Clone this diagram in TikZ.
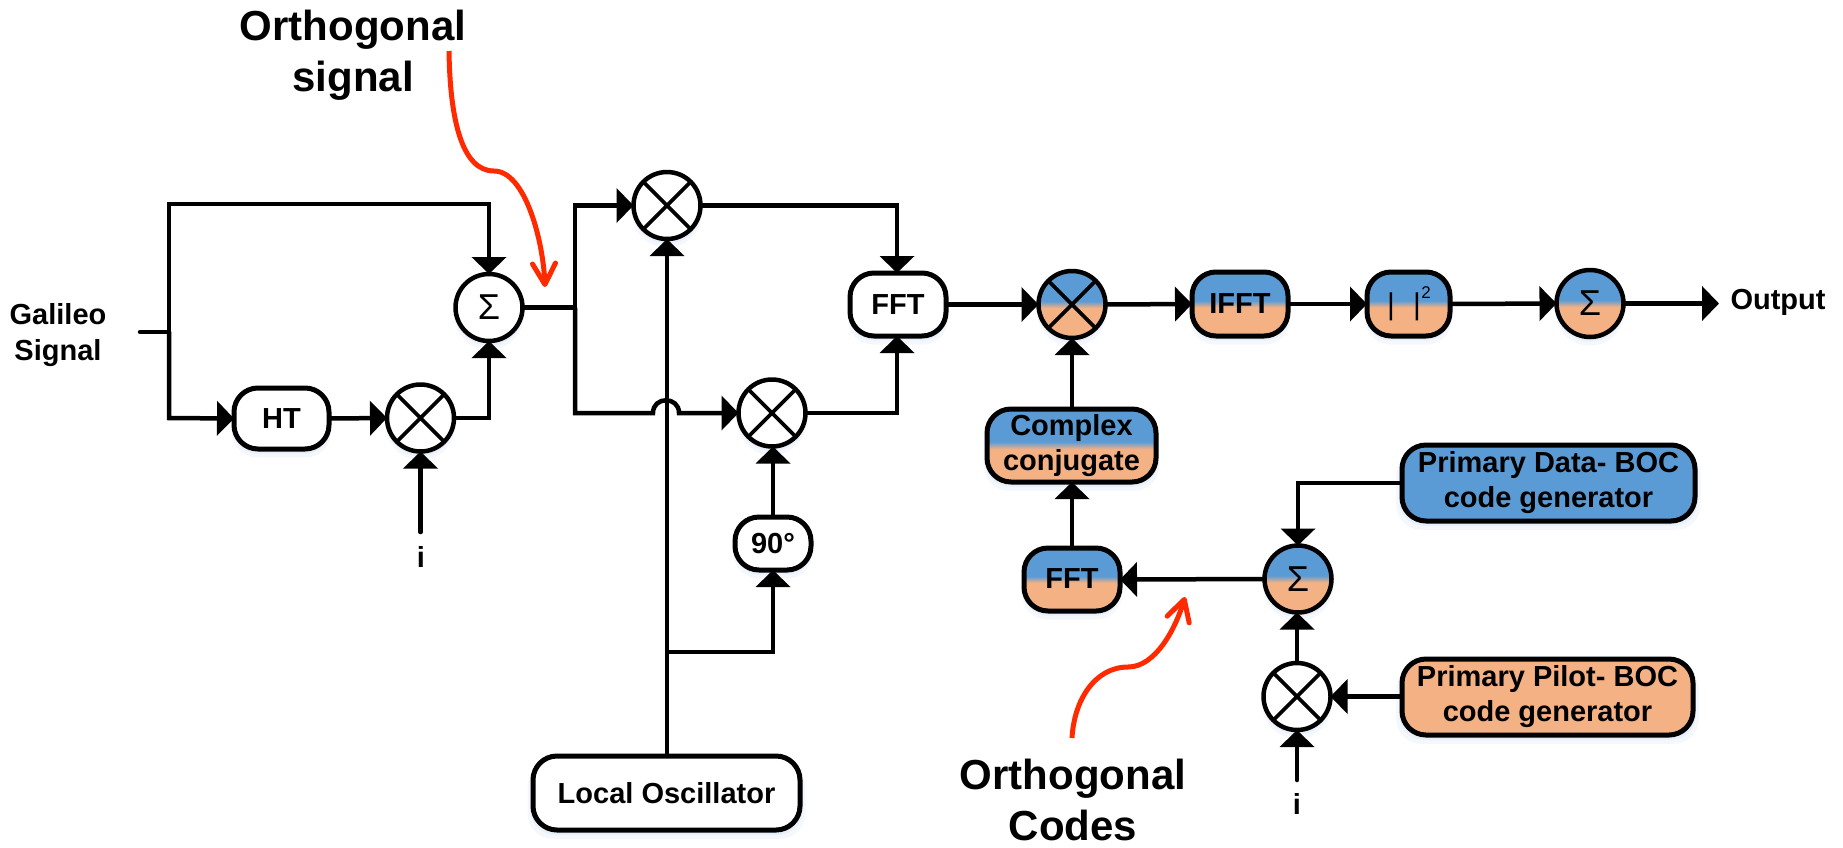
\documentclass[tikz,border=0pt]{standalone}
\usepackage{fontspec}
\setmainfont{Liberation Sans}
\usetikzlibrary{arrows.meta,shadows,calc}
\definecolor{bluec}{HTML}{5B9BD5}
\definecolor{orangec}{HTML}{F4B183}
\definecolor{redc}{HTML}{FF2A00}
\definecolor{softc}{HTML}{B4CDEB}
\pgfdeclareverticalshading{blueorange}{100bp}{color(0bp)=(orangec); color(47.5bp)=(orangec); color(52.5bp)=(bluec); color(100bp)=(bluec)}
\newcommand{\lblfont}{\fontsize{29}{35}\selectfont\bfseries}
\newcommand{\capfont}{\fontsize{42}{51}\selectfont\bfseries}
\tikzset{
  softsh/.style={general shadow={shadow yshift=-7pt,shadow scale=1.04,fill=softc,opacity=.14},general shadow={shadow yshift=-4pt,shadow scale=1.02,fill=softc,opacity=.18}},
  basenode/.style={draw=black,line width=5pt,inner sep=0pt,outer sep=0pt,align=center,text=black,softsh},
  boxnode/.style={basenode,rectangle,rounded corners=24pt,font=\lblfont},
  fillw/.style={fill=white},
  dual/.style={shading=blueorange},
  fillb/.style={fill=bluec},
  fillo/.style={fill=orangec},
  circ/.style={basenode,circle,minimum size=67pt,line width=4.5pt},
  mult/.style={circ,path picture={\draw[line width=3.8pt] (path picture bounding box.north west)--(path picture bounding box.south east) (path picture bounding box.north east)--(path picture bounding box.south west);}},
  summ/.style={circ,font=\fontsize{36}{36}\selectfont},
  wire/.style={line width=4.5pt,line join=miter,draw=black},
  arr/.style={wire,-{Triangle[length=17pt,width=34pt]}},
  callout/.style={draw=redc,line width=5pt,-{Straight Barb[length=21pt,width=23pt,line width=5pt,round]}},
  captionnode/.style={inner sep=0pt,align=center,font=\capfont,text=black},
  plainlabel/.style={inner sep=0pt,align=center,font=\lblfont,text=black},
}
\begin{document}
\begin{tikzpicture}[x=1pt,y=-1pt]
\useasboundingbox (0,0) rectangle (1843,847);
% nodes
\node[summ,fillw] (s1) at (489,307.5) {Σ};
\node[boxnode,fillw,minimum width=95pt,minimum height=61pt] (ht) at (281.5,418.5) {\raisebox{-1pt}{HT}};
\node[mult,fillw] (m1) at (420.5,418) {};
\node[mult,fillw] (mt) at (667,205.5) {};
\node[mult,fillw] (m2) at (772,413) {};
\node[boxnode,fillw,minimum width=96pt,minimum height=63pt] (fft1) at (898,304.5) {FFT};
\node[mult,dual] (mc) at (1072,304.5) {};
\node[boxnode,dual,minimum width=96pt,minimum height=64pt] (ifft) at (1240,304) {IFFT};
\node[boxnode,dual,minimum width=83pt,minimum height=64pt] (abs) at (1408.5,304) {};
\node[summ,dual] (s3) at (1590,303.5) {Σ};
\node[boxnode,dual,minimum width=169pt,minimum height=73pt] (conj) at (1071.5,445.5) {\raisebox{-1pt}{Complex}\\\raisebox{-1pt}{conjugate}};
\node[boxnode,dual,minimum width=96pt,minimum height=63pt] (fft2) at (1072,579.5) {\raisebox{1pt}{FFT}};
\node[summ,dual] (s2) at (1298,579) {Σ};
\node[mult,fillw] (m3) at (1297,696.5) {};
\node[boxnode,fillb,minimum width=293pt,minimum height=76pt] (data) at (1548.5,483) {\raisebox{-3pt}{Primary Data- BOC}\\\raisebox{-3pt}{code generator}};
\node[boxnode,fillo,minimum width=291pt,minimum height=76pt] (pilot) at (1547.5,697) {\raisebox{-4.5pt}{Primary Pilot- BOC}\\\raisebox{-4.5pt}{code generator}};
\node[boxnode,fillw,minimum width=76pt,minimum height=53pt] (ph) at (773,543.5) {\raisebox{1pt}{90°}};
\node[boxnode,fillw,minimum width=267pt,minimum height=74pt] (lo) at (666.5,793) {Local Oscillator};
% labels
\node[plainlabel,font=\fontsize{29}{36}\selectfont\bfseries] (gal) at (58,335) {Galileo\\Signal};
\node[plainlabel] (i1) at (421,557) {i};
\node[plainlabel] (i2) at (1297,804) {i};
\node[plainlabel] (out) at (1778,302) {Output};
\node[captionnode] (oc1) at (353,55) {Orthogonal\\signal};
\node[captionnode] (oc2) at (1073,800) {Orthogonal\\Codes};
% abs text
\node[inner sep=0pt,font=\fontsize{30}{30}\selectfont] (bar1) at (1391,306.5) {|};
\node[inner sep=0pt,font=\fontsize{30}{30}\selectfont] (bar2) at (1417,306.5) {|};
\node[inner sep=0pt,font=\fontsize{17}{17}\selectfont] (sq) at (1426,293) {2};
% coordinates
\coordinate (in) at (140,332);
\coordinate (j1) at (169,332);
\coordinate (c1) at (169,204);
\coordinate (c2) at (169,418);
\coordinate (c3) at (489,204);
\coordinate (c4) at (489,418);
\coordinate (j2) at (575,307.5);
\coordinate (c5) at (575,205.5);
\coordinate (c6) at (575,413);
\coordinate (c7) at (897,205.5);
\coordinate (c8) at (897,413);
\coordinate (j3) at (666,652);
\coordinate (c9) at (773,652);
\coordinate (c10) at (1298,483);
\coordinate (iu1) at (420.5,532);
\coordinate (iu2) at (1297,780);
\coordinate (oend) at (1719,303.5);
\coordinate (h1) at (653,413);
\coordinate (h2) at (679,413);
\coordinate (r1a) at (449,51);
\coordinate (r1b) at (494,171);
\coordinate (r1c) at (545,287);
\coordinate (r2a) at (1072,738);
\coordinate (r2b) at (1128,667);
\coordinate (r2c) at (1185,597);
% wires
\draw[wire,line cap=round] (in) -- (j1);
\draw[arr] (j1) -- (c1) -- (c3) -- (s1.north);
\draw[arr] (j1) -- (c2) -- (ht.west);
\draw[arr] (ht.east) -- (m1.west);
\draw[arr] (m1.east) -- (c4) -- (s1.south);
\draw[arr,line cap=round] (iu1) -- (m1.south);
\draw[wire] (s1.east) -- (j2);
\draw[arr] (j2) -- (c5) -- (mt.west);
\draw[arr] (j2) -- (c6) -- (h1) .. controls ($(h1)+(0,-17)$) and ($(h2)+(0,-17)$) .. (h2) -- (m2.west);
\draw[arr] (lo.north -| mt.south) -- (mt.south);
\draw[arr] (j3) -- (c9) -- (ph.south);
\draw[arr] (ph.north) -- (m2.south -| ph.north);
\draw[arr] (mt.east) -- (c7) -- (fft1.north -| c7);
\draw[arr] (m2.east) -- (c8) -- (fft1.south -| c8);
\draw[arr] (fft1.east) -- (mc.west);
\draw[arr] (mc.east) -- (ifft.west);
\draw[arr] (ifft.east) -- (abs.west);
\draw[arr] (abs.east) -- (s3.west);
\draw[arr] (s3.east) -- (oend);
\draw[arr] (conj.north -| mc.south) -- (mc.south);
\draw[arr] (fft2.north) -- (conj.south -| fft2.north);
\draw[arr] (s2.west) -- (fft2.east);
\draw[arr] (data.west) -- (c10) -- (s2.north);
\draw[arr] (m3.north) -- (s2.south -| m3.north);
\draw[arr] (pilot.west |- m3.east) -- (m3.east);
\draw[arr,line cap=round] (iu2) -- (m3.south);
% red callouts
\draw[callout] (r1a) .. controls (450,120) and (462,171) .. (r1b) .. controls (525,171) and (543,240) .. (r1c);
\draw[callout] (r2a) .. controls (1074,700) and (1095,667) .. (r2b) .. controls (1155,667) and (1175,630) .. (r2c);
\end{tikzpicture}
\end{document}
